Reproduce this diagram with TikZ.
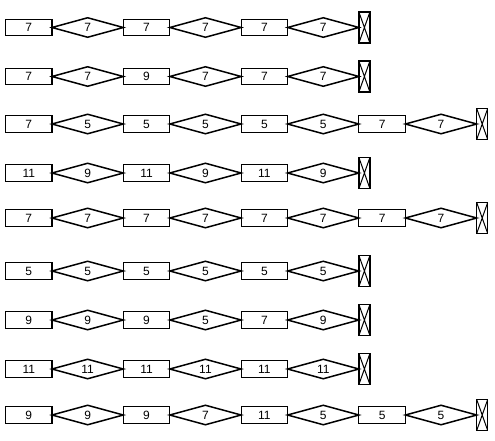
\documentclass[tikz,border=0pt]{standalone}
\usepackage{fontspec}
\setsansfont{Liberation Sans}
\usetikzlibrary{positioning,shapes.geometric}

\begin{document}
\begin{tikzpicture}[
    x=1pt,y=-1pt,
    every node/.style={font=\sffamily\fontsize{12}{14}\selectfont,inner sep=0pt,outer sep=0pt},
    cell/.style ={rectangle,draw,line width=1.1pt,minimum width=46.5pt,minimum height=16.5pt,anchor=west},
    link/.style ={diamond,draw,line width=1.5pt,minimum width=71.3pt,minimum height=19.5pt,aspect=3.7,anchor=west},
    stopbox/.style={rectangle,draw,line width=1.2pt,minimum width=11pt,minimum height=31pt,anchor=west,
                  path picture={\draw[line width=1pt] (path picture bounding box.north west) -- (path picture bounding box.south east)
                                     (path picture bounding box.south west) -- (path picture bounding box.north east);}}
  ]
  \useasboundingbox (0,0) rectangle (495,440);
  % one chain per row: y / number of cells / labels
  \foreach \y/\last/\labs [count=\r] in {
      27.5/6/{7,7,7,7,7,7},
      76.5/6/{7,7,9,7,7,7},
      124/8/{7,5,5,5,5,5,7,7},
      173/6/{11,9,11,9,11,9},
      218/8/{7,7,7,7,7,7,7,7},
      271/6/{5,5,5,5,5,5},
      320/6/{9,9,9,5,7,9},
      369/6/{11,11,11,11,11,11},
      415/8/{9,9,9,7,11,5,5,5}} {
    \foreach \lab [count=\k] in \labs {
      \ifnum\k=1
        \node[cell] (n\r-\k) at (5.5,\y) {\lab};
      \else
        \pgfmathtruncatemacro\prev{\k-1}
        \ifodd\k
          \node[cell,right=0pt of n\r-\prev] (n\r-\k) {\lab};
        \else
          \node[link,right=0pt of n\r-\prev] (n\r-\k) {\lab};
        \fi
      \fi
    }
    \node[stopbox,right=0pt of n\r-\last] (end\r) {};
  }
\end{tikzpicture}
\end{document}
